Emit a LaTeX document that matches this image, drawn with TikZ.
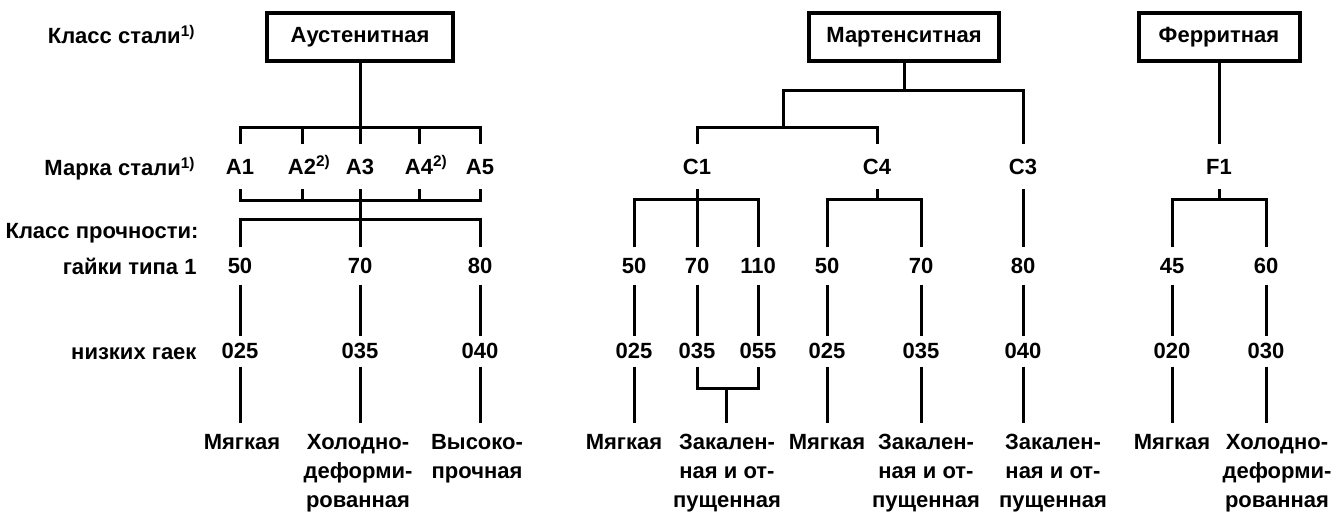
\documentclass[tikz,border=0pt]{standalone}
\usepackage{fontspec}
\setmainfont{Liberation Sans}
\usetikzlibrary{positioning}

\begin{document}
\begin{tikzpicture}[x=0.5pt, y=-0.5pt, line width=1.5pt,
    font=\fontsize{11}{14.5}\selectfont\bfseries,
    classbox/.style={draw, line width=2pt, minimum height=24pt, inner sep=2pt},
    rowlabel/.style={anchor=base east, inner sep=0pt},
    grade/.style={minimum height=21pt, inner sep=0pt},
    nutval/.style={minimum height=17pt, inner sep=0pt},
    thinval/.style={minimum height=14pt, inner sep=0pt},
    usage/.style={anchor=north, align=center, inner xsep=0pt, inner ysep=5pt}]
  \useasboundingbox (0,0) rectangle (1343,513);

  % row captions
  \node[rowlabel] (lclass) at (197,44) {Класс стали\textsuperscript{1)}};
  \node[rowlabel] (lgrade) at (197,176) {Марка стали\textsuperscript{1)}};
  \node[rowlabel] (lprop) at (200,239) {Класс прочности:};
  \node[rowlabel] (lnut) at (198,274) {гайки типа 1};
  \node[rowlabel] (lthin) at (198,359) {низких гаек};

  % steel classes
  \node[classbox, minimum width=93pt] (aus) at (360,37) {Аустенитная};
  \node[classbox, minimum width=95pt] (mart) at (904,37) {Мартенситная};
  \node[classbox, minimum width=80.5pt] (ferr) at (1219,37) {Ферритная};

  % steel grades
  \node[grade] (A1) at (240,167) {A1};
  \node[grade] (A2) at (302,167) {A2\rlap{\smash{\textsuperscript{2)}}}};
  \node[grade] (A3) at (360,167) {A3};
  \node[grade] (A4) at (419,167) {A4\rlap{\smash{\textsuperscript{2)}}}};
  \node[grade] (A5) at (480,167) {A5};
  \node[grade] (C1) at (697,167) {C1};
  \node[grade] (C4) at (877,167) {C4};
  \node[grade] (C3) at (1023,167) {C3};
  \node[grade] (F1) at (1219,167) {F1};

  % property classes, nuts style 1
  \node[nutval] (n50a) at (240,266) {50};
  \node[nutval] (n70a) at (360,266) {70};
  \node[nutval] (n80a) at (480,266) {80};
  \node[nutval] (n50c) at (634,266) {50};
  \node[nutval] (n70c) at (697,266) {70};
  \node[nutval] (n110c) at (758,266) {110};
  \node[nutval] (n50d) at (827,266) {50};
  \node[nutval] (n70d) at (921,266) {70};
  \node[nutval] (n80e) at (1023,266) {80};
  \node[nutval] (n45f) at (1172,266) {45};
  \node[nutval] (n60f) at (1266,266) {60};

  % property classes, thin nuts
  \node[thinval] (t025a) at (240,351) {025};
  \node[thinval] (t035a) at (360,351) {035};
  \node[thinval] (t040a) at (480,351) {040};
  \node[thinval] (t025c) at (634,351) {025};
  \node[thinval] (t035c) at (697,351) {035};
  \node[thinval] (t055c) at (758,351) {055};
  \node[thinval] (t025d) at (827,351) {025};
  \node[thinval] (t035d) at (921,351) {035};
  \node[thinval] (t040e) at (1023,351) {040};
  \node[thinval] (t020f) at (1172,351) {020};
  \node[thinval] (t030f) at (1266,351) {030};

  % condition
  \node[usage] (s1) at (242,423) {Мягкая};
  \node[usage] (s2) at (358,423) {Холодно-\\деформи-\\рованная};
  \node[usage] (s3) at (477,423) {Высоко-\\прочная};
  \node[usage] (s4) at (624,423) {Мягкая};
  \node[usage] (s5) at (727,423) {Закален-\\ная и от-\\пущенная};
  \node[usage] (s6) at (827,423) {Мягкая};
  \node[usage] (s7) at (926,423) {Закален-\\ная и от-\\пущенная};
  \node[usage] (s8) at (1053,423) {Закален-\\ная и от-\\пущенная};
  \node[usage] (s9) at (1172,423) {Мягкая};
  \node[usage] (s10) at (1277,423) {Холодно-\\деформи-\\рованная};

  % austenitic tree
  \coordinate (ausfork) at (360,128);
  \coordinate (ausjoin) at (360,201);
  \coordinate (ausprop) at (360,220);
  \draw (aus.south) -- (ausfork);
  \draw (A1.north) -- (A1 |- ausfork) -- (A5 |- ausfork) -- (A5.north);
  \foreach \g in {A2,A3,A4} \draw (\g.north) -- (\g |- ausfork);
  \draw (A1.south) -- (A1 |- ausjoin) -- (A5 |- ausjoin) -- (A5.south);
  \foreach \g in {A2,A4} \draw (\g.south) -- (\g |- ausjoin);
  \draw (A3.south) -- (n70a.north);
  \draw (n50a.north) -- (n50a |- ausprop) -- (n80a |- ausprop) -- (n80a.north);

  % martensitic tree
  \coordinate (martfork) at (904,91);
  \coordinate (csplit) at (783,128);
  \coordinate (cbar) at (0,200);
  \draw (mart.south) -- (martfork);
  \draw (csplit) -- (csplit |- martfork) -- (C3 |- martfork) -- (C3.north);
  \draw (C1.north) -- (C1 |- csplit) -- (C4 |- csplit) -- (C4.north);
  \draw (C1.south) -- (n70c.north);
  \draw (n50c.north) -- (n50c |- cbar) -- (n110c |- cbar) -- (n110c.north);
  \draw (C4.south) -- (C4 |- cbar);
  \draw (n50d.north) -- (n50d |- cbar) -- (n70d |- cbar) -- (n70d.north);
  \draw (C3.south) -- (n80e.north);

  % ferritic tree
  \draw (ferr.south) -- (F1.north);
  \draw (F1.south) -- (F1 |- cbar);
  \draw (n45f.north) -- (n45f |- cbar) -- (n60f |- cbar) -- (n60f.north);

  % nuts style 1 to thin nuts
  \foreach \a/\b in {n50a/t025a, n70a/t035a, n80a/t040a, n50c/t025c,
      n70c/t035c, n110c/t055c, n50d/t025d, n70d/t035d, n80e/t040e,
      n45f/t020f, n60f/t030f}
    \draw (\a.south) -- (\b.north);

  % thin nuts to condition
  \foreach \a/\b in {t025a/s1, t035a/s2, t040a/s3, t025c/s4, t025d/s6,
      t035d/s7, t040e/s8, t020f/s9, t030f/s10}
    \draw (\a.south) -- (\a |- \b.north);
  \coordinate (cjoin) at (726,388);
  \draw (t035c.south) -- (t035c |- cjoin) -- (t055c |- cjoin) -- (t055c.south);
  \draw (cjoin) -- (cjoin |- s5.north);
\end{tikzpicture}
\end{document}
